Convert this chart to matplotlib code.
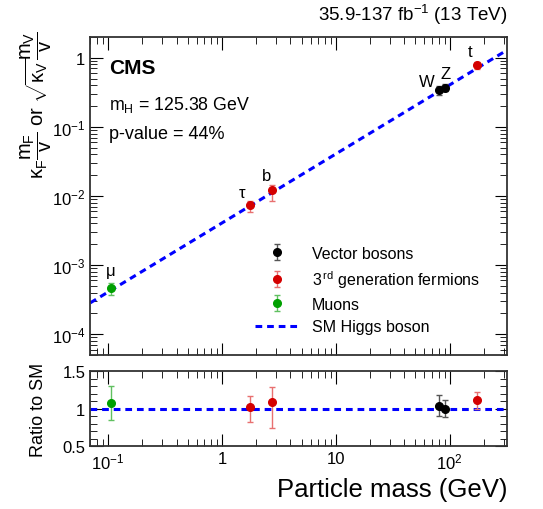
import numpy as np
import matplotlib
matplotlib.use('Agg')
import matplotlib.pyplot as plt
from matplotlib.ticker import FixedLocator, FixedFormatter, LogLocator, NullFormatter, MultipleLocator

plt.rcParams['font.family'] = ['Liberation Sans', 'DejaVu Sans']
plt.rcParams['mathtext.fontset'] = 'custom'
plt.rcParams['mathtext.rm'] = 'Liberation Sans'
plt.rcParams['mathtext.it'] = 'Liberation Sans'

vev = 246.22

# particle masses (GeV) and measured ratio to SM with asymmetric errors
names = ['μ', 'τ', 'b', 'W', 'Z', 't']
masses = [0.1057, 1.777, 2.76, 80.38, 91.19, 172.76]
ratio = [1.077, 1.024, 1.095, 1.04, 0.997, 1.113]
err_up = [0.223, 0.151, 0.200, 0.144, 0.120, 0.107]
err_dn = [0.222, 0.204, 0.351, 0.140, 0.102, 0.116]
groups = ['mu', 'ferm', 'ferm', 'vec', 'vec', 'ferm']

group_names = ['vec', 'ferm', 'mu']
group_labels = ['Vector bosons', '3$^{\\,\\rm rd}$ generation fermions', 'Muons']
group_colors = ['black', '#d40000', '#00a000']
group_ecolors = ['#555555', '#e87070', '#60c060']

# label offsets in points relative to the point
label_dx = [0, -6, -4, -9, 0, -5]
label_dy = [13, 9, 10, 6, 10, 10]

fig = plt.figure(figsize=(5.43, 5.10), dpi=100)
ax = fig.add_axes([0.1663, 0.302, 0.768, 0.6235])
axr = fig.add_axes([0.1663, 0.1229, 0.768, 0.1471])

xlim = (0.07, 320)
xs = np.array(xlim)

handles = []
for g, lab, c, ec in zip(group_names, group_labels, group_colors, group_ecolors):
    idx = [i for i in range(len(masses)) if groups[i] == g]
    m = np.array([masses[i] for i in idx])
    r = np.array([ratio[i] for i in idx])
    eu = np.array([err_up[i] for i in idx])
    ed = np.array([err_dn[i] for i in idx])
    y = r * m / vev
    h = ax.errorbar(m, y, yerr=[ed * m / vev, eu * m / vev], fmt='o', color=c, ecolor=ec,
                    ms=5.5, capsize=2, elinewidth=1, capthick=1, label=lab, zorder=3)
    handles.append(h)
    axr.errorbar(m, r, yerr=[ed, eu], fmt='o', color=c, ecolor=ec,
                 ms=5.5, capsize=2, elinewidth=1, capthick=1, zorder=3)

line, = ax.plot(xs, xs / vev, ls=(0, (2.2, 1.6)), color='#0000ff', lw=2.2,
                label='SM Higgs boson', zorder=2)
handles.append(line)
axr.plot(xs, [1, 1], ls=(0, (2.2, 1.6)), color='#0000ff', lw=2.2, zorder=2)

for i, n in enumerate(names):
    ax.annotate(n, (masses[i], ratio[i] * masses[i] / vev), xytext=(label_dx[i], label_dy[i]),
                textcoords='offset points', ha='center', va='center', fontsize=12)

for a in (ax, axr):
    a.set_xscale('log')
    a.set_xlim(xlim)
    a.tick_params(which='both', direction='in', top=True, right=True, labelsize=12)
    a.tick_params(which='major', length=9)
    a.tick_params(which='minor', length=5)
    a.xaxis.set_major_locator(FixedLocator([0.1, 1, 10, 100]))
    a.xaxis.set_minor_locator(LogLocator(base=10, subs=np.arange(2, 10)))
    a.xaxis.set_minor_formatter(NullFormatter())
    for s in a.spines.values():
        s.set_linewidth(1.3)
        s.set_color('#333333')

ax.set_yscale('log')
ax.set_ylim(5e-5, 2)
ax.yaxis.set_major_locator(FixedLocator([1e-4, 1e-3, 1e-2, 1e-1, 1]))
ax.yaxis.set_major_formatter(FixedFormatter(['$10^{-4}$', '$10^{-3}$', '$10^{-2}$', '$10^{-1}$', '1']))
ax.yaxis.set_minor_locator(LogLocator(base=10, subs=np.arange(2, 10)))
ax.yaxis.set_minor_formatter(NullFormatter())
ax.set_xticklabels([])
ax.set_ylabel(r'$\kappa_F\dfrac{m_F}{v}$ or $\sqrt{\kappa_V}\dfrac{m_V}{v}$', fontsize=14.5)
ax.yaxis.set_label_coords(-0.088, 0.79)

axr.set_ylim(0.5, 1.5)
axr.yaxis.set_major_locator(FixedLocator([0.5, 1, 1.5]))
axr.yaxis.set_major_formatter(FixedFormatter(['0.5', '1', '1.5']))
axr.yaxis.set_minor_locator(MultipleLocator(0.1))
axr.xaxis.set_major_formatter(FixedFormatter(['$10^{-1}$', '1', '10', '$10^{2}$']))
axr.set_ylabel('Ratio to SM', fontsize=13)
axr.yaxis.set_label_coords(-0.105, 0.5)
axr.set_xlabel('Particle mass (GeV)', fontsize=18.5, loc='right')

ax.text(0.045, 0.905, 'CMS', transform=ax.transAxes, fontsize=15, fontweight='bold', va='center')
ax.text(0.045, 0.79, '$m_H$ = 125.38 GeV', transform=ax.transAxes, fontsize=12.8, va='center')
ax.text(0.045, 0.695, 'p-value = 44%', transform=ax.transAxes, fontsize=13, va='center')
ax.text(1.0, 1.035, '35.9-137 fb$^{-1}$ (13 TeV)', transform=ax.transAxes, fontsize=13.5,
        ha='right', va='bottom')

ax.legend(handles=handles, loc='lower right', bbox_to_anchor=(0.97, 0.02), frameon=False,
          fontsize=11.5, handlelength=2.8, labelspacing=0.45, handletextpad=0.8)

fig.savefig('out.png', dpi=100)
